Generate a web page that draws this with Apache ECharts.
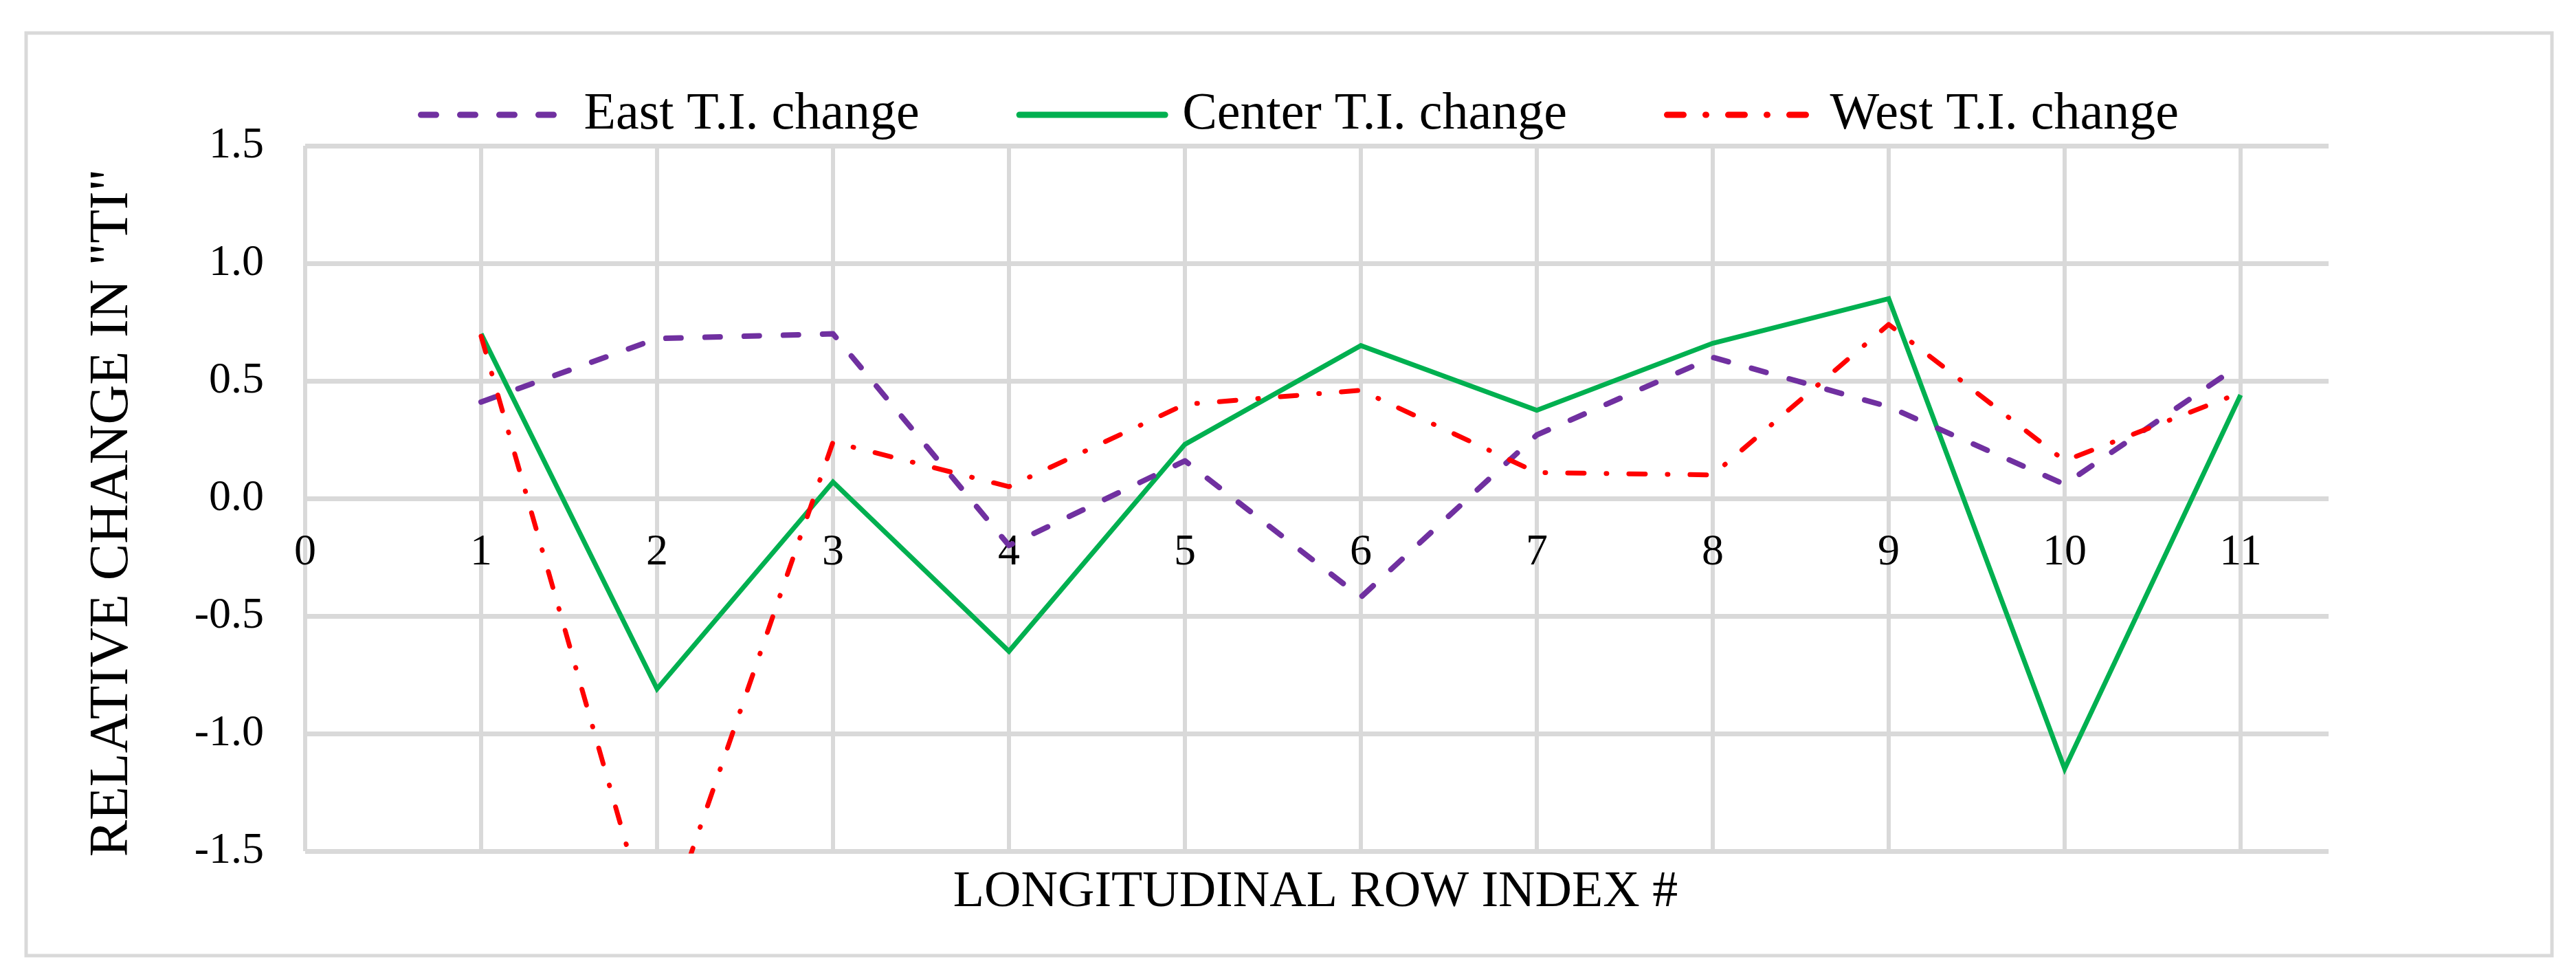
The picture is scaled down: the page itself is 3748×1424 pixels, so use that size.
<!DOCTYPE html>
<html>
<head>
<meta charset="utf-8">
<script src="https://cdn.jsdelivr.net/npm/echarts@6/dist/echarts.min.js"></script>
<style>
  html, body { margin: 0; padding: 0; background: #ffffff; }
  #chart { width: 3748px; height: 1424px; }
</style>
</head>
<body>
<div id="chart"></div>
<script>
// ---- data ----
const rowIndex = [1, 2, 3, 4, 5, 6, 7, 8, 9, 10, 11];
const eastChange   = [0.41, 0.68, 0.70, -0.20, 0.16, -0.42, 0.27, 0.60, 0.39, 0.06, 0.57];
const centerChange = [0.70, -0.81, 0.07, -0.65, 0.23, 0.65, 0.375, 0.66, 0.85, -1.15, 0.44];
const westChange   = [0.69, -1.93, 0.24, 0.05, 0.40, 0.46, 0.11, 0.10, 0.74, 0.16, 0.45];
const seriesNames  = ['East T.I. change', 'Center T.I. change', 'West T.I. change'];
const xAxisTitle = 'LONGITUDINAL ROW INDEX #';
const yAxisTitle = 'RELATIVE CHANGE IN "TI"';

const FONT = "'Liberation Serif', 'Times New Roman', serif";
const pairs = (ys) => rowIndex.map((x, i) => [x, ys[i]]);

const GRID = { left: 444, right: 360, top: 212, bottom: 186 };
const H = 1424;
const plotBottom = H - GRID.bottom;
const zeroLineY = GRID.top + (plotBottom - GRID.top) / 2;   // y = 0 lies mid-way (range -1.5..1.5)

const chart = echarts.init(document.getElementById('chart'), null, { renderer: 'canvas' });

chart.setOption({
  backgroundColor: '#ffffff',
  animation: false,
  graphic: [
    {
      type: 'rect',
      shape: { x: 38, y: 48, width: 3675, height: 1342 },
      style: { fill: 'none', stroke: '#d9d9d9', lineWidth: 5 },
      silent: true
    },
    {
      type: 'text',
      x: 164, y: 746,
      rotation: Math.PI / 2,
      style: { text: yAxisTitle, font: "80px 'Liberation Serif', serif", fill: '#000000',
               textAlign: 'center', textVerticalAlign: 'middle' },
      silent: true
    },
    {
      type: 'text',
      x: 1914, y: 1299,
      style: { text: xAxisTitle, font: "74px 'Liberation Serif', serif", fill: '#000000',
               textAlign: 'center', textVerticalAlign: 'middle' },
      silent: true
    }
  ],
  legend: {
    data: seriesNames,
    left: 603,
    top: 124,
    itemWidth: 212,
    itemHeight: 20,
    itemGap: 141,
    itemStyle: { opacity: 0 },
    lineStyle: { width: 9, cap: 'round' },
    textStyle: { fontFamily: FONT, fontSize: 76, color: '#000000', padding: [0, 0, 0, 20] }
  },
  grid: { left: GRID.left, right: GRID.right, top: GRID.top, bottom: GRID.bottom, containLabel: false, outerBoundsMode: 'none' },
  xAxis: {
    type: 'value',
    min: 0,
    max: 11.5,
    interval: 1,
    position: 'bottom',
    offset: zeroLineY - plotBottom,
    axisLine: { show: false, onZero: false },
    axisTick: { show: false },
    axisLabel: {
      margin: 47,
      fontFamily: FONT, fontSize: 64, color: '#000000',
      formatter: (v) => (Number.isInteger(v) ? String(v) : '')
    },
    splitLine: { show: true, showMaxLine: false, lineStyle: { color: '#d9d9d9', width: 6 } }
  },
  yAxis: {
    type: 'value',
    min: -1.5,
    max: 1.5,
    interval: 0.5,
    axisLine: { show: false, onZero: false },
    axisTick: { show: false },
    axisLabel: {
      margin: 60,
      fontFamily: FONT, fontSize: 64, color: '#000000',
      formatter: (v) => v.toFixed(1)
    },
    splitLine: { show: true, lineStyle: { color: '#d9d9d9', width: 7 } }
  },
  series: [
    {
      name: seriesNames[0],
      type: 'line',
      data: pairs(eastChange),
      symbol: 'none',
      z: 3,
      lineStyle: { color: '#7030a0', width: 8, type: [22, 35], cap: 'round', join: 'round' },
      itemStyle: { color: '#7030a0' }
    },
    {
      name: seriesNames[1],
      type: 'line',
      data: pairs(centerChange),
      symbol: 'none',
      z: 2,
      lineStyle: { color: '#00b050', width: 7, type: 'solid', join: 'miter' },
      itemStyle: { color: '#00b050' }
    },
    {
      name: seriesNames[2],
      type: 'line',
      data: pairs(westChange),
      symbol: 'none',
      z: 4,
      lineStyle: { color: '#ff0000', width: 7, type: [24, 32, 1, 32], cap: 'round', join: 'round' },
      itemStyle: { color: '#ff0000' }
    }
  ]
});
</script>
</body>
</html>
